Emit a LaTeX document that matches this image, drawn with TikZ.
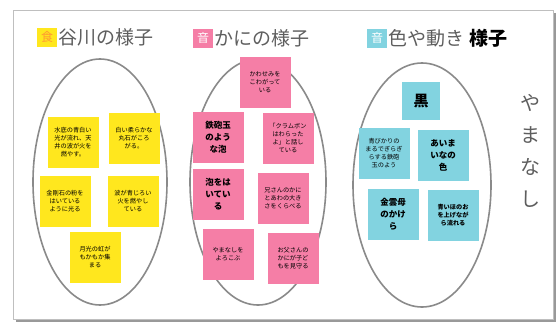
\documentclass[tikz,border=0pt]{standalone}
\usepackage{fontspec}
\setmainfont{Noto Sans CJK JP}
\usepackage{xcolor}
\usetikzlibrary{positioning}
\definecolor{yel}{HTML}{FFE71E}
\definecolor{pnk}{HTML}{F57EA6}
\definecolor{cyn}{HTML}{82D3E0}
\definecolor{rim}{HTML}{8A8A8A}
\definecolor{ink}{HTML}{5E5E5E}
\begin{document}
\begin{tikzpicture}[x=1pt,y=-1pt]
\tikzset{oval/.style={draw=rim,line width=1.6pt}}
\tikzstyle{note} =[inner sep=2pt,minimum width=51pt,minimum height=51pt,text width=47pt,align=center,font=\fontsize{6.2}{8}\selectfont]
\tikzstyle{bignote} =[note,font=\bfseries\fontsize{8.5}{12}\selectfont]
\tikzstyle{tag} =[inner sep=0pt,minimum width=20pt,minimum height=19pt,font=\fontsize{12}{12}\selectfont]
\tikzstyle{head} =[inner sep=0pt,text=ink,font=\fontsize{19}{19}\selectfont]

\useasboundingbox (0,0) rectangle (559,327);
\fill[white] (0,0) rectangle (559,327);
\fill[black!40] (16,13) rectangle (556,322);
\fill[white,draw=black!25] (13,10) rectangle (553,319);

\draw[oval] (100,182) ellipse [x radius=67,y radius=123];
\draw[oval] (258,182) ellipse [x radius=68,y radius=123];
\draw[oval] (422,185) ellipse [x radius=69,y radius=122];

\node[tag,fill=yel,text=orange!80](ytag) at (47,37){食};
\node[head,right=1pt of ytag](yhead){谷川の様子};
\node[tag,fill=pnk,text=white](ptag) at (203,38){音};
\node[head,right=1pt of ptag](phead){かにの様子};
\node[tag,fill=cyn,text=white](ctag) at (377,38){音};
\node[head,right=1pt of ctag](chead){色や動き};
\node[head,text=black,font=\bfseries\fontsize{19}{19}\selectfont,right=5pt of chead](chead2){様子};

\node[note,fill=yel](y1) at (73,142){水底の青白い\\光が流れ、天\\井の波が火を\\燃やす。};
\node[note,fill=yel](y2) at (134,138){白い柔らかな\\丸石がころ\\がる。};
\node[note,fill=yel](y3) at (65,201){金剛石の粉を\\はいている\\ように光る};
\node[note,fill=yel](y4) at (133,201){波が青じろい\\火を燃やし\\ている};
\node[note,fill=yel](y5) at (95,257){月光の虹が\\もかもか集\\まる};

\node[note,fill=pnk](p1) at (265,82){かわせみを\\こわがって\\いる};
\node[bignote,fill=pnk](p2) at (218,137){鉄砲玉\\のよう\\な泡};
\node[note,fill=pnk](p3) at (288,138){「クラムボン\\はわらった\\よ」と話し\\ている};
\node[bignote,fill=pnk](p4) at (218,194){泡をは\\いてい\\る};
\node[note,fill=pnk](p5) at (283,198){兄さんのかに\\とあわの大き\\さをくらべる};
\node[note,fill=pnk](p6) at (228,254){やまなしを\\よろこぶ};
\node[note,fill=pnk](p7) at (293,258){お父さんの\\かにが子ど\\もを見守る};

\node[bignote,fill=cyn,minimum width=38pt,minimum height=38pt,text width=30pt,font=\bfseries\fontsize{15}{15}\selectfont](c1) at (421,101){黒};
\node[note,fill=cyn](c2) at (384,153){青びかりの\\まるでぎらぎ\\らする鉄砲\\玉のよう};
\node[bignote,fill=cyn](c3) at (443,155){あいま\\いなの\\色};
\node[bignote,fill=cyn](c4) at (393,214){金雲母\\のかけ\\ら};
\node[note,fill=cyn,font=\bfseries\fontsize{6.2}{8}\selectfont](c5) at (453,215){青いほのお\\を上げなが\\ら流れる};

\node[head,align=center,font=\fontsize{20}{32}\selectfont](title) at (530,151){や\\ま\\な\\し};
\end{tikzpicture}
\end{document}
